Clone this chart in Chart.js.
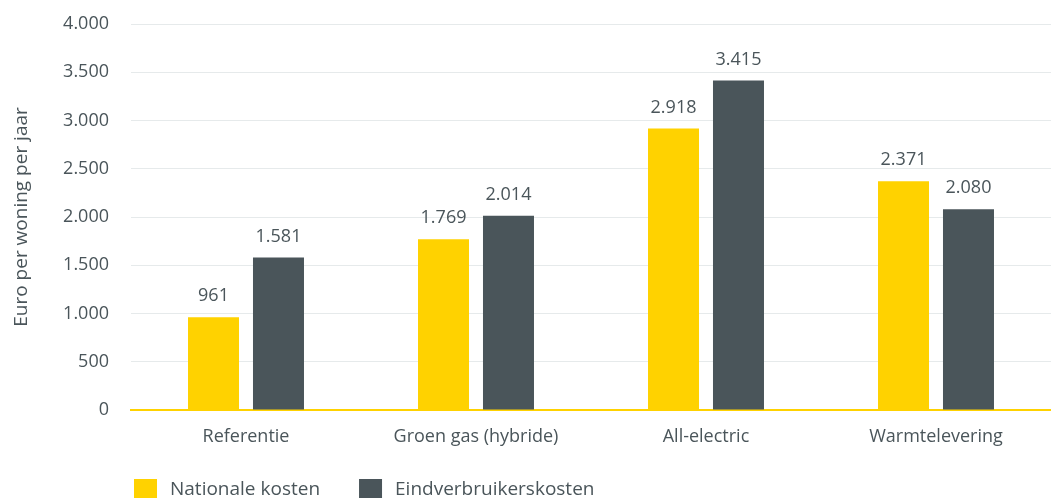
<!DOCTYPE html>
<html>
<head>
<meta charset="utf-8">
<script src="https://cdn.jsdelivr.net/npm/chart.js@4.4.0/dist/chart.umd.min.js"></script>
<style>
  html, body { margin: 0; padding: 0; background: #fff; overflow: hidden; }
  #wrap { width: 1051px; height: 498px; }
</style>
</head>
<body>
<div id="wrap"><canvas id="kosten"></canvas></div>
<script>
const categories = ['Referentie', 'Groen gas (hybride)', 'All-electric', 'Warmtelevering'];
const nationaleKosten = [961, 1769, 2918, 2371];
const eindverbruikersKosten = [1581, 2014, 3415, 2080];

const textColor = '#4a555a';
const yellow = '#ffd200';
const dark = '#4a555a';
const font = '"Open Sans", sans-serif';

// Dutch thousands separator
const fmt = v => String(v).replace(/\B(?=(\d{3})+(?!\d))/g, '.');

const valueLabels = {
    id: 'valueLabels',
    afterDatasetsDraw(chart) {
        const ctx = chart.ctx;
        ctx.save();
        ctx.font = '18px ' + font;
        ctx.fillStyle = textColor;
        ctx.textAlign = 'center';
        ctx.textBaseline = 'bottom';
        chart.data.datasets.forEach((ds, i) => {
            chart.getDatasetMeta(i).data.forEach((bar, j) => {
                ctx.fillText(fmt(ds.data[j]), bar.x, bar.y - 12);
            });
        });
        ctx.restore();
    }
};

// simple legend under the plot, wide spacing like the original
const bottomLegend = {
    id: 'bottomLegend',
    afterDraw(chart) {
        const ctx = chart.ctx;
        ctx.save();
        ctx.font = '19px ' + font;
        ctx.textBaseline = 'middle';
        let x = chart.chartArea.left + 3;
        const y = 479;
        chart.data.datasets.forEach(ds => {
            ctx.fillStyle = ds.backgroundColor;
            ctx.fillRect(x, y, 23, 19);
            ctx.fillStyle = textColor;
            ctx.fillText(ds.label, x + 36, y + 11);
            x += 36 + ctx.measureText(ds.label).width + 39;
        });
        ctx.restore();
    }
};

const ctx = document.getElementById('kosten').getContext('2d');
new Chart(ctx, {
    type: 'bar',
    data: {
        labels: categories,
        datasets: [{
            label: 'Nationale kosten',
            data: nationaleKosten,
            backgroundColor: yellow
        }, {
            label: 'Eindverbruikerskosten',
            data: eindverbruikersKosten,
            backgroundColor: dark
        }]
    },
    options: {
        responsive: true,
        maintainAspectRatio: false,
        animation: false,
        categoryPercentage: 0.565,
        barPercentage: 0.785,
        layout: { padding: { top: 24, left: 10, right: 0, bottom: 30 } },
        plugins: {
            legend: { display: false },
            tooltip: { enabled: false }
        },
        scales: {
            x: {
                grid: { display: false },
                border: { color: yellow, width: 2 },
                ticks: {
                    color: textColor,
                    font: { family: font, size: 18 },
                    padding: 8
                },
                afterFit: s => { s.height = 58; }
            },
            y: {
                min: 0,
                max: 4000,
                grid: { color: '#e6eaeb', drawTicks: false },
                border: { display: false },
                ticks: {
                    stepSize: 500,
                    color: textColor,
                    font: { family: font, size: 18 },
                    padding: 22,
                    callback: v => fmt(v)
                },
                title: {
                    display: true,
                    text: 'Euro per woning per jaar',
                    color: textColor,
                    font: { family: font, size: 19 },
                    padding: { top: 0, bottom: 6 }
                },
                afterFit: s => {
                    s.width = 121;
                    s.paddingTop = 0;
                    s.paddingBottom = 0;
                }
            }
        }
    },
    plugins: [valueLabels, bottomLegend]
});
</script>
</body>
</html>
